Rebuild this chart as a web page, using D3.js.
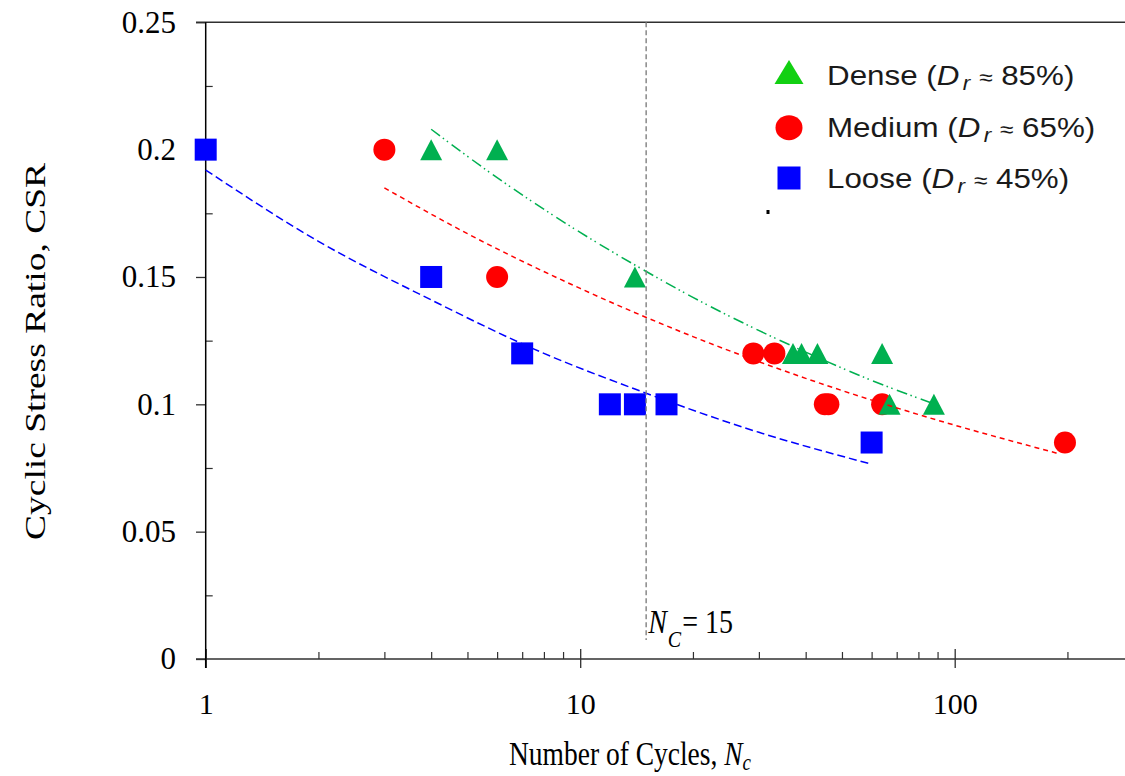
<!DOCTYPE html>
<html>
<head>
<meta charset="utf-8">
<script src="https://cdn.jsdelivr.net/npm/d3@7"></script>
<style>
  body { margin: 0; background: #fff; }
  svg { display: block; }
</style>
</head>
<body>
<svg id="chart" width="1125" height="776"></svg>
<script>
// Test results: number of cycles to liquefaction vs. cyclic stress ratio
const looseN = [1, 4, 7, 12, 14, 17, 60];
const looseCSR = [0.2, 0.15, 0.12, 0.1, 0.1, 0.1, 0.085];
const mediumN = [3, 6, 29, 33, 45, 46, 64, 197];
const mediumCSR = [0.2, 0.15, 0.12, 0.12, 0.1, 0.1, 0.1, 0.085];
const denseN = [4, 6, 14, 37, 39, 43, 64, 67, 88];
const denseCSR = [0.2, 0.2, 0.15, 0.12, 0.12, 0.12, 0.12, 0.1, 0.1];

// Power-law trend curves, sampled along each fitted line
const looseTrendN = [1, 2, 4, 8, 14, 30, 60];
const looseTrendCSR = [0.192, 0.164, 0.141, 0.120, 0.106, 0.089, 0.0765];
const mediumTrendN = [3, 5, 10, 20, 40, 80, 191];
const mediumTrendCSR = [0.185, 0.167, 0.1455, 0.1266, 0.1102, 0.096, 0.0805];
const denseTrendN = [4, 6, 10, 14, 20, 40, 60, 86];
const denseTrendCSR = [0.208, 0.189, 0.1675, 0.1547, 0.142, 0.1205, 0.1094, 0.1007];

// Axis ticks
const yTickValues = [0, 0.05, 0.1, 0.15, 0.2, 0.25];
const yTickLabels = ["0", "0.05", "0.1", "0.15", "0.2", "0.25"];
const yMinorTicks = [0.025, 0.075, 0.125, 0.175, 0.225];
const xTickValues = [1, 10, 100];
const xTickLabels = ["1", "10", "100"];
const xMinorTicks = [2, 3, 4, 5, 6, 7, 8, 9, 20, 30, 40, 50, 60, 70, 80, 90, 200];

// Legend entries and the reference cycle count
const seriesNames = ["Dense", "Medium", "Loose"];
const seriesDr = ["85%", "65%", "45%"];
const ncValue = 15;

const svg = d3.select("#chart");
const serif = "'Liberation Serif', 'Times New Roman', serif";
const sans = "'Liberation Sans', Arial, sans-serif";

const x = d3.scaleLog().domain([1, 100]).range([205.7, 954.7]);
const y = d3.scaleLinear().domain([0, 0.25]).range([659, 22.3]);
const x0 = x(1), yTop = y(0.25), yBot = y(0);

const colors = { loose: "#0000ff", medium: "#ff0000", dense: "#00b050" };

// ---- axes ----
const axisColor = "#303030";

// y major ticks (outward) with labels
const gy = svg.append("g").attr("transform", `translate(${x0},0)`)
  .call(d3.axisLeft(y).tickValues(yTickValues).tickSize(9.7).tickPadding(20)
    .tickFormat((d, i) => yTickLabels[i]));
gy.select(".domain").remove();
gy.selectAll("line").attr("stroke", axisColor).attr("stroke-width", 1.3);
gy.selectAll("text").attr("font-family", serif).attr("font-size", 31).attr("fill", "#000");

// y minor ticks (inward)
const gym = svg.append("g").attr("transform", `translate(${x0},0)`)
  .call(d3.axisRight(y).tickValues(yMinorTicks).tickSize(7).tickFormat(""));
gym.select(".domain").remove();
gym.selectAll("line").attr("stroke", axisColor).attr("stroke-width", 1.2);

// x major ticks crossing the axis, with labels below
const gx = svg.append("g").attr("transform", `translate(0,${yBot})`)
  .call(d3.axisBottom(x).tickValues(xTickValues).tickSize(9).tickPadding(25)
    .tickFormat((d, i) => xTickLabels[i]));
gx.select(".domain").remove();
gx.selectAll("line").attr("stroke", axisColor).attr("stroke-width", 1.3);
gx.selectAll("text").attr("font-family", serif).attr("font-size", 30).attr("fill", "#000");

const gxu = svg.append("g").attr("transform", `translate(0,${yBot})`)
  .call(d3.axisTop(x).tickValues(xTickValues).tickSize(10).tickFormat(""));
gxu.select(".domain").remove();
gxu.selectAll("line").attr("stroke", axisColor).attr("stroke-width", 1.3);

// x minor ticks (inward)
const gxm = svg.append("g").attr("transform", `translate(0,${yBot})`)
  .call(d3.axisTop(x).tickValues(xMinorTicks).tickSize(7).tickFormat(""));
gxm.select(".domain").remove();
gxm.selectAll("line").attr("stroke", axisColor).attr("stroke-width", 1.2);

// axis lines and top frame
svg.append("line").attr("x1", 196).attr("x2", 1125).attr("y1", yBot).attr("y2", yBot)
  .attr("stroke", axisColor).attr("stroke-width", 1.5);
svg.append("line").attr("x1", 196).attr("x2", 1125).attr("y1", yTop).attr("y2", yTop)
  .attr("stroke", axisColor).attr("stroke-width", 1.5);
svg.append("line").attr("x1", x0).attr("x2", x0).attr("y1", yTop).attr("y2", yBot + 9)
  .attr("stroke", "#000").attr("stroke-width", 1.5);

// ---- markers ----
const marks = svg.append("g");
const looseData = looseN.map((n, i) => ({ n, v: looseCSR[i] }));
const mediumData = mediumN.map((n, i) => ({ n, v: mediumCSR[i] }));
const denseData = denseN.map((n, i) => ({ n, v: denseCSR[i] }));

marks.selectAll("rect.loose").data(looseData).join("rect")
  .attr("class", "loose")
  .attr("x", d => x(d.n) - 11).attr("y", d => y(d.v) - 11)
  .attr("width", 22).attr("height", 22).attr("fill", colors.loose);

marks.selectAll("circle.medium").data(mediumData).join("circle")
  .attr("class", "medium")
  .attr("cx", d => x(d.n)).attr("cy", d => y(d.v)).attr("r", 11)
  .attr("fill", colors.medium);

const tri = (w, h) => `M0,${-h / 2}L${w / 2},${h / 2}L${-w / 2},${h / 2}Z`;
marks.selectAll("path.dense").data(denseData).join("path")
  .attr("class", "dense")
  .attr("d", tri(22, 21))
  .attr("transform", d => `translate(${x(d.n)},${y(d.v)})`)
  .attr("fill", colors.dense);

// ---- trend curves ----
const line = d3.line().x(d => x(d.n)).y(d => y(d.v)).curve(d3.curveMonotoneX);
const trends = [
  { n: looseTrendN, v: looseTrendCSR, color: colors.loose, dash: "8,4" },
  { n: mediumTrendN, v: mediumTrendCSR, color: colors.medium, dash: "5,4" },
  { n: denseTrendN, v: denseTrendCSR, color: colors.dense, dash: "11,3.5,1.5,3.5,1.5,4.5" }
];
trends.forEach(t => {
  svg.append("path")
    .datum(t.n.map((n, i) => ({ n, v: t.v[i] })))
    .attr("d", line)
    .attr("fill", "none")
    .attr("stroke", t.color)
    .attr("stroke-width", 1.5)
    .attr("stroke-dasharray", t.dash);
});

// ---- reference line at N_C ----
svg.append("line")
  .attr("x1", x(ncValue)).attr("x2", x(ncValue))
  .attr("y1", yTop).attr("y2", 640)
  .attr("stroke", "#808080").attr("stroke-width", 1.4)
  .attr("stroke-dasharray", "5,3");

const ncLabel = svg.append("g").attr("transform", `translate(${x(ncValue) + 2},632.7) scale(1,1.2)`)
  .append("text").attr("font-family", serif).attr("font-size", 28).attr("fill", "#000");
ncLabel.append("tspan").attr("font-style", "italic").text("N");
ncLabel.append("tspan").attr("font-style", "italic").attr("font-size", 20).attr("dy", 12).attr("dx", 1).text("C");
ncLabel.append("tspan").attr("dy", -12).attr("dx", 1).text("= " + ncValue);

// ---- axis titles ----
const xTitle = svg.append("g").attr("transform", "translate(509,765) scale(1,1.2)")
  .append("text").attr("font-family", serif).attr("font-size", 27.5).attr("fill", "#000");
xTitle.append("tspan").text("Number of Cycles, ");
xTitle.append("tspan").attr("font-style", "italic").text("N");
xTitle.append("tspan").attr("font-style", "italic").attr("font-size", 19).attr("dy", 4).text("c");

svg.append("text")
  .attr("transform", "translate(45,351.5) rotate(-90)")
  .attr("text-anchor", "middle")
  .attr("font-family", serif).attr("font-size", 30).attr("fill", "#000")
  .attr("textLength", 377).attr("lengthAdjust", "spacingAndGlyphs")
  .text("Cyclic Stress Ratio, CSR");

// ---- legend ----
const legendX = 789, legendTextX = 827;
const legendRows = [72, 127.7, 178];
const legendBase = [85, 136.7, 187.7];
const legend = svg.append("g");

legend.append("path").attr("d", tri(29, 24))
  .attr("transform", `translate(${legendX},${legendRows[0]})`).attr("fill", "#12d012");
legend.append("ellipse").attr("cx", legendX).attr("cy", legendRows[1])
  .attr("rx", 13.5).attr("ry", 12.5).attr("fill", colors.medium);
legend.append("rect").attr("x", legendX - 11.5).attr("y", legendRows[2] - 11.5)
  .attr("width", 23).attr("height", 23).attr("fill", colors.loose);

seriesNames.forEach((name, i) => {
  const t = legend.append("g")
    .attr("transform", `translate(${legendTextX},${legendBase[i]}) scale(1.12,1)`)
    .append("text").attr("font-family", sans).attr("font-size", 28).attr("fill", "#1a1a1a");
  t.append("tspan").text(name + " (");
  t.append("tspan").attr("font-style", "italic").text("D");
  t.append("tspan").attr("font-style", "italic").attr("font-size", 20)
    .attr("dx", 3).attr("dy", 5).text("r");
  t.append("tspan").attr("dy", -5).text(" ");
  t.append("tspan").attr("font-size", 22).text("\u2248");
  t.append("tspan").text(" " + seriesDr[i] + ")");
});

// stray dot under the legend
svg.append("rect").attr("x", 766.5).attr("y", 210).attr("width", 3).attr("height", 4).attr("fill", "#000");
</script>
</body>
</html>
